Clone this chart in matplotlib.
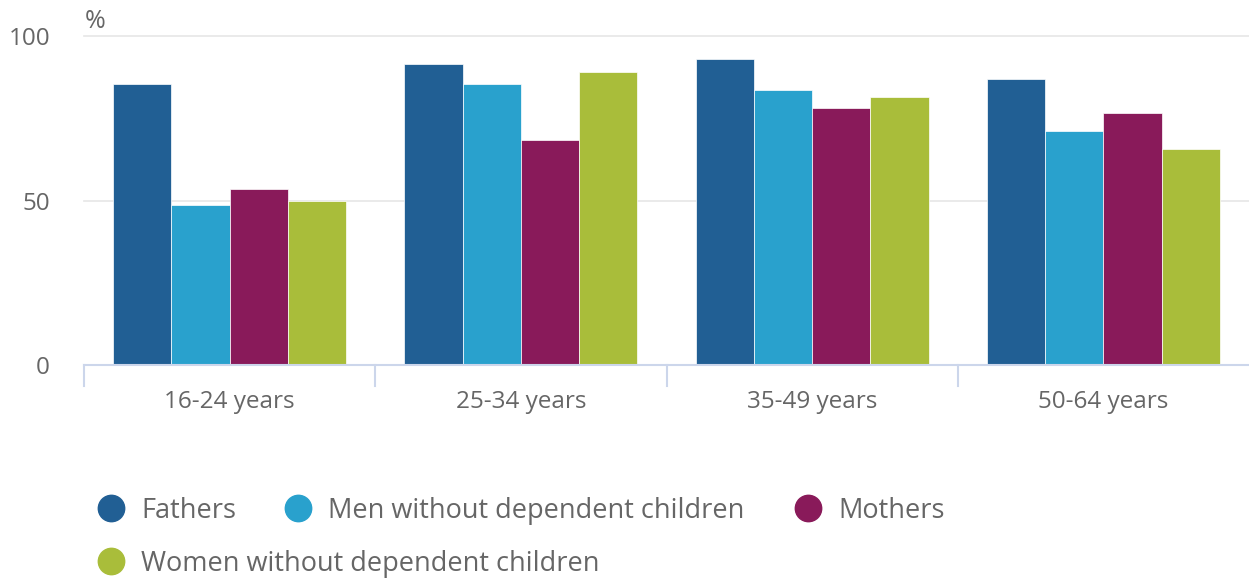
import numpy as np
import matplotlib
matplotlib.use("Agg")
import matplotlib.pyplot as plt

plt.rcParams["font.family"] = ["Open Sans", "DejaVu Sans"]

# Data (% employed)
categories = ["16-24 years", "25-34 years", "35-49 years", "50-64 years"]
series_names = ["Fathers", "Men without dependent children", "Mothers",
                "Women without dependent children"]
fathers = [85.5, 91.5, 93.0, 87.0]
men_no_kids = [48.7, 85.5, 83.6, 71.2]
mothers = [53.6, 68.5, 78.1, 76.6]
women_no_kids = [50.0, 89.2, 81.6, 65.8]
y_ticks = [0, 50, 100]

COLORS = ["#215f94", "#29a1cd", "#891a5a", "#a9bd3a"]
TXT = "#666666"
AXC = "#ccd6eb"
W, H = 1249, 578

fig = plt.figure(figsize=(W / 100, H / 100), dpi=100)
ax = fig.add_axes([84 / W, 1 - 365 / H, 1 - 84 / W, (365 - 36) / H])

x = np.arange(len(categories))
bw = 0.2
for i, vals in enumerate([fathers, men_no_kids, mothers, women_no_kids]):
    ax.bar(x + (i - 1.5) * bw, vals, width=bw, color=COLORS[i],
           edgecolor="white", linewidth=0.5, zorder=3)

ax.set_xlim(-0.5, len(categories) - 0.5)
ax.set_ylim(0, 100)
ax.set_yticks(y_ticks)
ax.yaxis.grid(True, color="#e6e6e6", linewidth=1.2, zorder=0)
for gl in ax.get_ygridlines():
    gl.set_clip_on(False)
ax.tick_params(axis="y", length=0, labelsize=17.5, labelcolor=TXT, pad=24.5)
ax.set_xticks(x)
ax.set_xticklabels(categories)
ax.tick_params(axis="x", length=0, labelsize=17.5, labelcolor=TXT, pad=18)
for s in ["top", "right", "left"]:
    ax.spines[s].set_visible(False)
ax.spines["bottom"].set_color(AXC)
ax.spines["bottom"].set_linewidth(1.5)
ax.spines["bottom"].set_zorder(4)

# category boundary ticks
for b in np.arange(-0.5, len(categories) - 0.5, 1.0):
    ax.plot([b, b], [0, -6.5], color=AXC, lw=1.5, clip_on=False, zorder=4)

fig.text(85 / W, 1 - 21 / H, "%", fontsize=18, color=TXT, va="center", ha="left")

# legend, laid out in flowing rows
legend_pos = [(111, 508), (298, 508), (808, 508), (111, 561)]
for (px, py), name, c in zip(legend_pos, series_names, COLORS):
    fig.add_artist(matplotlib.lines.Line2D([px / W], [1 - py / H], marker="o",
                                           markersize=19, color=c, linestyle="none",
                                           transform=fig.transFigure))
    fig.text((px + 30) / W, 1 - (py + 3) / H, name, fontsize=19.5, color=TXT,
             va="center", ha="left")

fig.savefig("out.png", dpi=100)
